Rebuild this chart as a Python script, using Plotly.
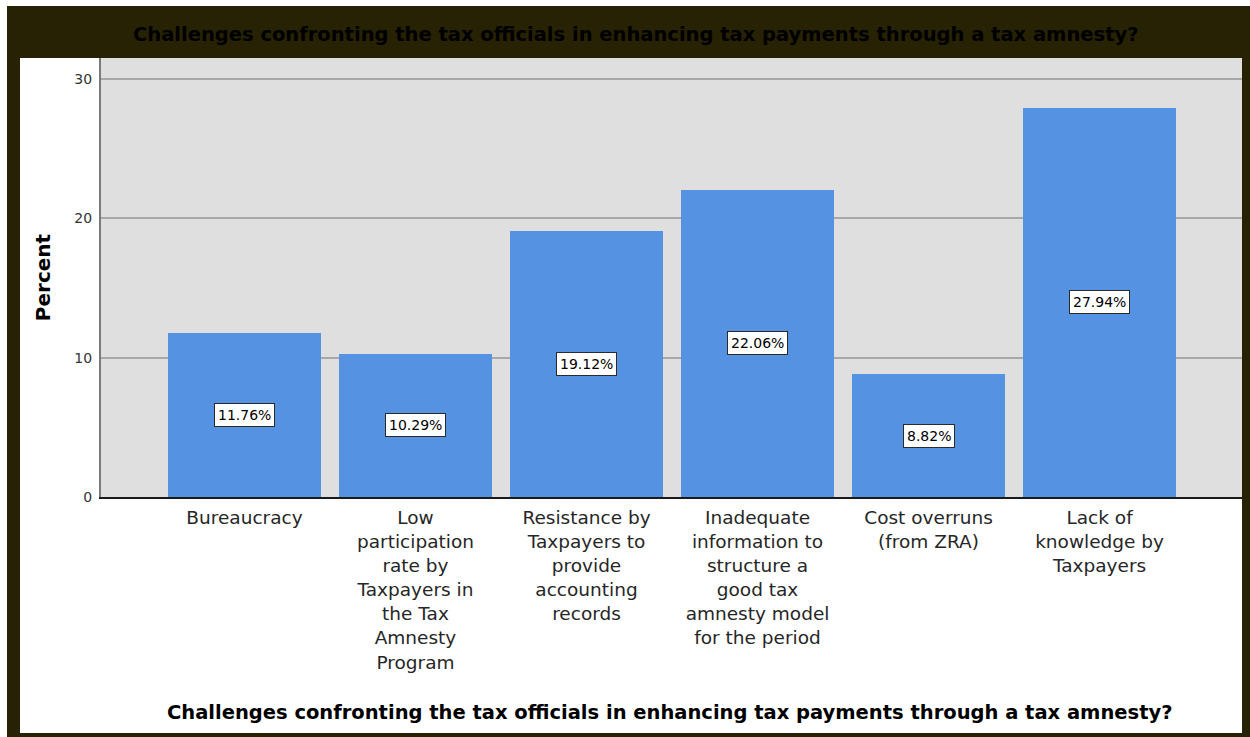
import plotly.graph_objects as go

# Survey responses (percent of respondents)
categories = [
    "Bureaucracy",
    "Low<br>participation<br>rate by<br>Taxpayers in<br>the Tax<br>Amnesty<br>Program",
    "Resistance by<br>Taxpayers to<br>provide<br>accounting<br>records",
    "Inadequate<br>information to<br>structure a<br>good tax<br>amnesty model<br>for the period",
    "Cost overruns<br>(from ZRA)",
    "Lack of<br>knowledge by<br>Taxpayers",
]
percent = [11.76, 10.29, 19.12, 22.06, 8.82, 27.94]
y_ticks = [0, 10, 20, 30]
question = "Challenges confronting the tax officials in enhancing tax payments through a tax amnesty?"

W, H = 1250, 737
ML, MR, MT, MB = 101, 8, 58, 240
PW, PH = W - ML - MR, H - MT - MB

FONT = "DejaVu Sans"
BAR_BLUE = "#5593e2"
FRAME = "#272204"
Y_MAX = 31.51
X_RANGE = [-0.839, len(categories) - 1 + 0.833]


def px_x(p):
    return (p - ML) / PW


def px_y(p):
    return (H - MB - p) / PH


idx = list(range(len(categories)))

fig = go.Figure()

# dotted backdrop of the plotting region
fig.add_trace(go.Bar(
    x=[(X_RANGE[0] + X_RANGE[1]) / 2], y=[Y_MAX], width=[X_RANGE[1] - X_RANGE[0]],
    marker=dict(color="rgba(0,0,0,0)", line_width=0,
                pattern=dict(shape=".", fgcolor="#6a6a6a", bgcolor="rgba(255,255,255,0)",
                             size=2, solidity=0.5, fillmode="overlay")),
    hoverinfo="skip", showlegend=False,
))

fig.add_trace(go.Bar(
    x=idx, y=percent, width=0.895,
    marker=dict(color=BAR_BLUE, line_width=0),
    showlegend=False,
))

# boxed value labels at mid-height of each bar
for i, v in zip(idx, percent):
    fig.add_annotation(
        x=i, y=v / 2, xref="x", yref="y", text=f"{v:.2f}%", showarrow=False,
        font=dict(family=FONT, size=14, color="#000"),
        bgcolor="white", bordercolor="#2a2a2a", borderwidth=1, borderpad=3,
    )

shapes = [
    # white margins outside the dark frame
    dict(x0=px_x(0), x1=px_x(W), y0=px_y(0), y1=px_y(6)),
    dict(x0=px_x(0), x1=px_x(7), y0=px_y(0), y1=px_y(H)),
    # white panel around the plotting region
    dict(x0=px_x(20), x1=px_x(ML), y0=px_y(MT), y1=px_y(733)),
    dict(x0=px_x(ML), x1=px_x(1242), y0=px_y(H - MB), y1=px_y(733)),
]
for s in shapes:
    fig.add_shape(type="rect", xref="paper", yref="paper", fillcolor="white",
                  line_width=0, layer="below", **s)

# title inside the dark band
fig.add_annotation(
    x=px_x(636), y=px_y(35), xref="paper", yref="paper", text=f"<b>{question}</b>",
    showarrow=False, font=dict(family=FONT, size=19.5, color="#000"),
    xanchor="center", yanchor="middle",
)
# category axis title
fig.add_annotation(
    x=px_x(670), y=px_y(712), xref="paper", yref="paper", text=f"<b>{question}</b>",
    showarrow=False, font=dict(family=FONT, size=19.5, color="#000"),
    xanchor="center", yanchor="middle",
)

fig.update_layout(
    width=W, height=H,
    margin=dict(l=ML, r=MR, t=MT, b=MB, pad=0),
    paper_bgcolor=FRAME, plot_bgcolor="white",
    barmode="overlay", bargap=0,
    font=dict(family=FONT),
    xaxis=dict(
        range=X_RANGE, tickmode="array", tickvals=idx, ticktext=categories,
        showgrid=False, zeroline=False, showline=True, linecolor="#1a1a1a", linewidth=2,
        ticks="", tickfont=dict(family=FONT, size=18.5, color="#262626"),
        ticklabelstandoff=3,
    ),
    yaxis=dict(
        range=[0, Y_MAX], tickvals=y_ticks, showgrid=True, gridcolor="#b8b8b8", gridwidth=2,
        zeroline=False, showline=True, linecolor="#7a7a7a", linewidth=2,
        ticks="", tickfont=dict(family=FONT, size=14, color="#333"),
        ticklabelstandoff=4,
        title=dict(text="<b>Percent</b>", font=dict(family=FONT, size=20, color="#000"), standoff=18),
    ),
)

fig.write_html("out.html")
